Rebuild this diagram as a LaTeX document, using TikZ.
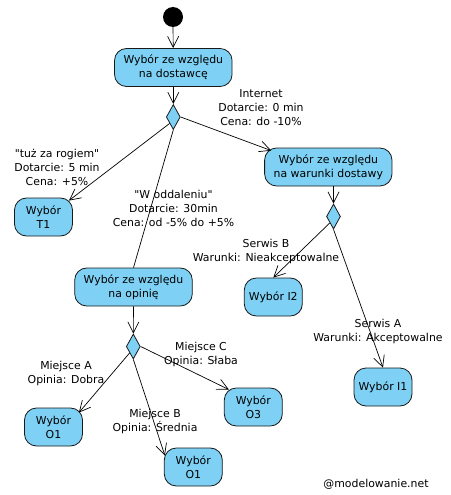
\documentclass[tikz,border=0pt]{standalone}
\usepackage{fontspec}
\setmainfont{DejaVu Sans}
\usetikzlibrary{shapes.geometric,arrows.meta,calc}
\definecolor{aktblue}{HTML}{7ED1F4}
\tikzset{
  akcja/.style={draw=black!90,fill=aktblue,rounded corners=12pt,line width=0.8pt,minimum width=58pt,minimum height=38pt,inner xsep=4pt,align=center},
  szeroka/.style={akcja,inner xsep=9pt},
  romb/.style={diamond,draw=black!90,fill=aktblue,line width=0.8pt,minimum width=14pt,minimum height=25pt,inner sep=0pt},
  przejscie/.style={line width=0.7pt,-{Straight Barb[length=11pt,width=11pt]}},
  opis/.style={align=center,inner sep=0pt}
}
\begin{document}
\begin{tikzpicture}[x=1pt,y=-1pt,font=\fontsize{10.9}{14}\selectfont]
				\useasboundingbox (0,0) rectangle (450,495);
				\node[circle,fill=black,minimum size=20pt,inner sep=0pt] (start) at (173,17) {};
				\node[szeroka] (dostawca) at (173.3,67.5) {Wybór ze względu\\na dostawcę};
				\node[romb] (d1) at (173.3,117) {};
				\node[szeroka] (warunki) at (328.3,167) {Wybór ze względu\\na warunki dostawy};
				\node[romb] (d2) at (333.5,216.5) {};
				\node[szeroka] (opinia) at (133.5,287) {Wybór ze względu\\na opinię};
				\node[romb] (d3) at (133.3,346.5) {};
				\foreach \nazwa/\px/\py/\tekst in {t1/43.5/217/Wybór\\T1, i2/273.3/297/Wybór I2, i1/383/387/Wybór I1, o1a/53.5/427/Wybór\\O1, o3/253.3/407/Wybór\\O3, o1b/193.3/467/Wybór\\O1}
				\node[akcja] (\nazwa) at (\px,\py) {\tekst};
				% opisy przejsc
				\node[opis] (etInternet) at (261,108) {Internet\\Dotarcie: 0 min\\Cena: do -10\%};
				\node[opis] (etRog) at (57,167) {\textquotedbl tuż za rogiem\textquotedbl\\Dotarcie: 5 min\\Cena: +5\%};
				\node[opis] (etOddal) at (173.5,208) {\textquotedbl W oddaleniu\textquotedbl\\Dotarcie: 30min\\Cena: od -5\% do +5\%};
				\node[opis] (etSerwisB) at (266,251) {Serwis B\\Warunki: Nieakceptowalne};
				\node[opis] (etSerwisA) at (378,331) {Serwis A\\Warunki: Akceptowalne};
				\node[opis] (etMiejsceC) at (201,354) {Miejsce C\\Opinia: Słaba};
				\node[opis] (etMiejsceA) at (66,373) {Miejsce A\\Opinia: Dobra};
				\node[opis] (etMiejsceB) at (155,421) {Miejsce B\\Opinia: Średnia};
				\node[opis] (znak) at (376,484) {@modelowanie.net};
				% przejscia
				\draw[przejscie] (start) -- (dostawca);
				\draw[przejscie] (dostawca) -- (d1);
				\draw[przejscie] (d1.east) -- ($(warunki.north west)+(7,3)$);
				\draw[przejscie] (d1.south west) -- ($(t1.north east)+(-4,3)$);
				\draw[line width=0.7pt] (d1.south) -- (opinia.north);
				\draw[przejscie] (d2.north |- warunki.south) -- (d2.north);
				\draw[przejscie] (d2.south west) -- (i2.north);
				\draw[przejscie] (d2.south) -- (i1.north);
				\draw[przejscie] (opinia) -- (d3);
				\draw[przejscie] (d3.south west) -- ($(o1a.north east)+(-4,5)$);
				\draw[przejscie] (d3.south) -- ($(o1b.north west)+(1,8)$);
				\draw[przejscie] (d3.east) -- ($(o3.north west)+(5,2)$);
\end{tikzpicture}
\end{document}
